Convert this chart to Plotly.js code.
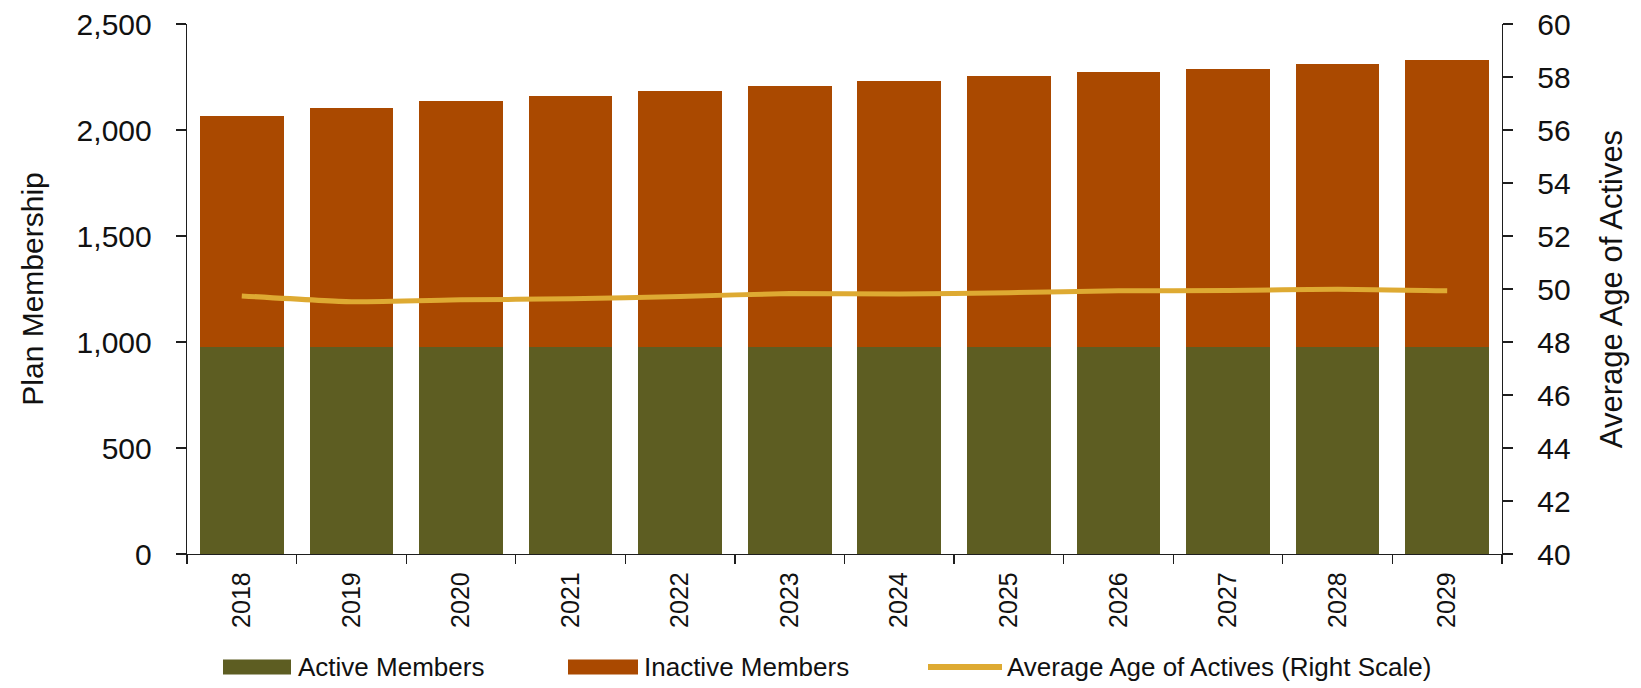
<!DOCTYPE html>
<html>
<head>
<meta charset="utf-8">
<script src="https://cdn.plot.ly/plotly-3.0.1.min.js"></script>
<style>
  html, body { margin: 0; padding: 0; background: #ffffff; }
  #chart { width: 1641px; height: 688px; }
</style>
</head>
<body>
<div id="chart"></div>
<script>
// ---- Data ----
const years = ['2018','2019','2020','2021','2022','2023','2024','2025','2026','2027','2028','2029'];
const activeMembers   = [975, 975, 975, 975, 975, 975, 975, 975, 975, 975, 975, 975];
const inactiveMembers = [1090, 1130, 1162, 1185, 1209, 1231, 1254, 1278, 1299, 1314, 1338, 1353];
const averageAge      = [49.74, 49.52, 49.59, 49.63, 49.72, 49.83, 49.81, 49.86, 49.93, 49.94, 49.99, 49.93];
const seriesNames = ['Active Members', 'Inactive Members', 'Average Age of Actives (Right Scale)'];
const leftTicks  = [0, 500, 1000, 1500, 2000, 2500];
const rightTicks = [40, 42, 44, 46, 48, 50, 52, 54, 56, 58, 60];

// ---- Styles ----
const colActive = '#5D5D22';
const colInactive = '#AA4900';
const colAge = '#DEAA32';
const axisCol = '#1e1e1e';
const textCol = '#111111';
const baseFont = 'Arial, "Liberation Sans", sans-serif';

const traces = [
  { type: 'bar', x: years, y: activeMembers, name: seriesNames[0],
    marker: { color: colActive }, showlegend: false, hoverinfo: 'x+y+name' },
  { type: 'bar', x: years, y: inactiveMembers, name: seriesNames[1],
    marker: { color: colInactive }, showlegend: false, hoverinfo: 'x+y+name' },
  { type: 'scatter', mode: 'lines', x: years, y: averageAge, name: seriesNames[2],
    yaxis: 'y2', line: { color: colAge, width: 5, shape: 'spline', smoothing: 0.5 },
    showlegend: false }
];

// custom legend (swatch + label), positioned below the plot
const legendY = -0.213;
const legendItems = [
  { kind: 'bar',  color: colActive,   x0: 223, x1: 291, tx: 296, name: seriesNames[0] },
  { kind: 'bar',  color: colInactive, x0: 568, x1: 638, tx: 642, name: seriesNames[1] },
  { kind: 'line', color: colAge,      x0: 928, x1: 1002, tx: 1005, name: seriesNames[2] }
];
const plotL = 187, plotW = 1315;
const px = v => (v - plotL) / plotW;

const shapes = [];
const annotations = [];
legendItems.forEach(it => {
  if (it.kind === 'bar') {
    shapes.push({ type: 'rect', xref: 'paper', yref: 'paper', ysizemode: 'pixel', yanchor: legendY,
      x0: px(it.x0), x1: px(it.x1), y0: -7.5, y1: 7.5, fillcolor: it.color, line: { width: 0 } });
  } else {
    shapes.push({ type: 'line', xref: 'paper', yref: 'paper', ysizemode: 'pixel', yanchor: legendY,
      x0: px(it.x0), x1: px(it.x1), y0: 0, y1: 0, line: { color: it.color, width: 6 } });
  }
  annotations.push({ xref: 'paper', yref: 'paper', x: px(it.tx), y: legendY, xanchor: 'left', yanchor: 'middle',
    text: it.name, showarrow: false, font: { family: baseFont, size: 26, color: textCol } });
});

const layout = {
  width: 1641, height: 688,
  margin: { l: 187, r: 139, t: 24, b: 134 },
  paper_bgcolor: '#ffffff', plot_bgcolor: '#ffffff',
  barmode: 'stack', bargap: 0.236,
  showlegend: false,
  font: { family: baseFont, color: textCol },
  xaxis: {
    type: 'category', range: [-0.5, 11.5],
    showline: true, linecolor: axisCol, linewidth: 1.3,
    ticks: 'outside', tickson: 'boundaries', ticklen: 9, tickcolor: axisCol, tickwidth: 1.3,
    tickangle: -90, ticklabelstandoff: 7,
    tickfont: { family: baseFont, size: 25, color: textCol },
    showgrid: false, zeroline: false, fixedrange: true
  },
  yaxis: {
    range: [0, 2500], tickvals: leftTicks, tickformat: ',d',
    showline: true, linecolor: axisCol, linewidth: 1.3,
    ticks: 'outside', ticklen: 10, tickcolor: axisCol, tickwidth: 1.3,
    ticklabelstandoff: 18,
    tickfont: { family: baseFont, size: 30, color: textCol },
    showgrid: false, zeroline: false,
    title: { text: 'Plan Membership', font: { family: baseFont, size: 30, color: textCol }, standoff: 24 }
  },
  yaxis2: {
    overlaying: 'y', side: 'right', anchor: 'x',
    range: [40, 60], tickvals: rightTicks,
    showline: true, linecolor: axisCol, linewidth: 1.3,
    ticks: 'outside', ticklen: 10, tickcolor: axisCol, tickwidth: 1.3,
    ticklabelstandoff: 18,
    tickfont: { family: baseFont, size: 30, color: textCol },
    showgrid: false, zeroline: false,
    title: { text: 'Average Age of Actives', font: { family: baseFont, size: 31, color: textCol }, standoff: 30 }
  },
  yaxis3: {
    overlaying: 'y', side: 'left', anchor: 'x',
    range: [0, 2500], tickvals: leftTicks,
    showline: false, ticks: 'inside', ticklen: 10, tickcolor: axisCol, tickwidth: 1.3,
    showticklabels: false, showgrid: false, zeroline: false
  },
  yaxis4: {
    overlaying: 'y', side: 'right', anchor: 'x',
    range: [40, 60], tickvals: rightTicks,
    showline: false, ticks: 'inside', ticklen: 10, tickcolor: axisCol, tickwidth: 1.3,
    showticklabels: false, showgrid: false, zeroline: false
  },
  shapes: shapes,
  annotations: annotations
};

Plotly.newPlot('chart', traces, layout, { displayModeBar: false, staticPlot: true });
</script>
</body>
</html>
